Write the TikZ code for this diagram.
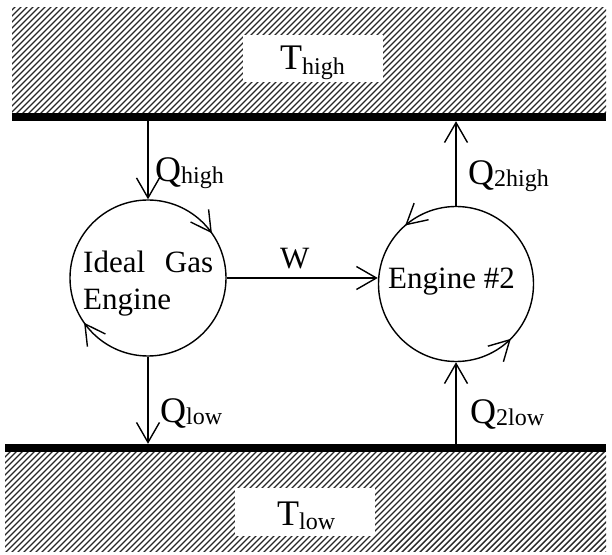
\documentclass[tikz,border=0pt]{standalone}
\usepackage{fontspec}
\setmainfont{Liberation Serif}
\usetikzlibrary{arrows.meta,decorations.markings,calc}
\newcommand\mylbl[3][3pt]{{\fontsize{36}{40}\selectfont #2}{\fontsize{24}{28}\selectfont\raisebox{-#1}{#3}}}
\begin{document}
\begin{tikzpicture}[x=1pt,y=1pt,
  bar/.style={fill=black, inner sep=0pt, minimum height=8pt},
  engine/.style={circle, draw, line width=1.4pt, minimum size=156pt, inner sep=0pt},
  flow/.style={line width=1.4pt, -{Straight Barb[length=20pt,width=23pt]}},
  txt/.style={anchor=base west, inner sep=0pt, font=\fontsize{31}{37}\selectfont},
  whitebox/.style={fill=white, inner sep=0pt},
  hatchline/.style={line width=1.4pt, black!85},
]
\useasboundingbox (0,0) rectangle (612,554);

% top reservoir hatch
\begin{scope}
  \clip (12,441) rectangle (606,546);
  \foreach \i in {-120,-114,...,612} \draw[hatchline] (\i,430) -- ++(130,130);
\end{scope}
% bottom reservoir hatch
\begin{scope}
  \clip (5,3) rectangle (606,102);
  \foreach \i in {-120,-114,...,612} \draw[hatchline] (\i,-10) -- ++(130,130);
\end{scope}

% bars
\node[bar, minimum width=594pt] (topbar) at (309,437) {};
\node[bar, minimum width=601pt] (botbar) at (305.5,106) {};

% label boxes
\node[whitebox, minimum width=140pt, minimum height=47pt] (thbox) at (313,495.5) {};
\node[whitebox, minimum width=140pt, minimum height=48pt] (tlbox) at (305,42) {};
\node[txt] (th) at (280,484) {\mylbl[5pt]{T}{high}};
\node[txt] (tl) at (277,29) {\mylbl[4pt]{T}{low}};

% engines
\node[engine] (L) at (148,276) {};
\node[engine, minimum size=155pt] (R) at (456,270) {};

\node[txt] (ig1) at (83,281) {\makebox[130pt][s]{Ideal Gas}};
\node[txt] (ig2) at (83,244) {Engine};
\node[txt] (e2) at (388,265) {Engine \#2};

% cycle arrows
\path[decoration={markings,
  mark=at position 35/360 with {\pgfsetlinewidth{1.4pt}\arrowreversed{Straight Barb[length=20pt,width=22pt]}},
  mark=at position 215/360 with {\pgfsetlinewidth{1.4pt}\arrowreversed{Straight Barb[length=20pt,width=22pt]}}},
  decorate] (L.center) circle[radius=78pt];
\path[decoration={markings,
  mark=at position 131/360 with {\pgfsetlinewidth{1.4pt}\arrow{Straight Barb[length=20pt,width=22pt]}},
  mark=at position 315/360 with {\pgfsetlinewidth{1.4pt}\arrow{Straight Barb[length=20pt,width=22pt]}}},
  decorate] (R.center) circle[radius=77.5pt];

% heat / work flows
\draw[flow] (topbar.south -| L.north) -- (L.north);
\draw[flow] (L.south) -- (L.south |- botbar.north);
\draw[flow] (R.north) -- (R.north |- topbar.south);
\draw[flow] (botbar.north -| R.south) -- (R.south);
\draw[flow] (L.east) -- (L.east -| R.west);

\node[txt] (w) at (280,285) {W};
\node[txt] (qh) at (155,372) {\mylbl[2pt]{Q}{high}};
\node[txt] (q2h) at (468,369) {\mylbl[2pt]{Q}{2high}};
\node[txt] (ql) at (160,132) {\mylbl[2pt]{Q}{low}};
\node[txt] (q2l) at (470,131) {\mylbl[2pt]{Q}{2low}};
\end{tikzpicture}
\end{document}
